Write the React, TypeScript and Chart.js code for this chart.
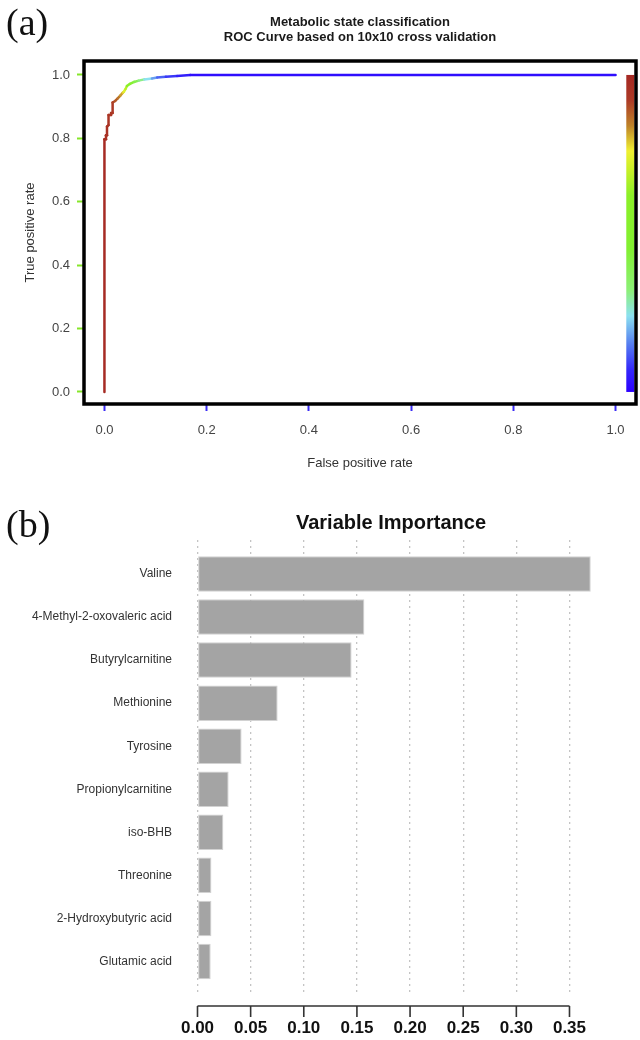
import React, { useEffect, useRef } from "react";
import { Chart, registerables } from "chart.js";

Chart.register(...registerables);
Chart.defaults.font.family = "'Liberation Sans', Arial, Helvetica, sans-serif";

// ---------- (a) ROC curve data ----------
const rocFpr = [0, 0, 0.003, 0.003, 0.005, 0.005, 0.008, 0.008, 0.013, 0.013, 0.016, 0.016, 0.021, 0.026, 0.031, 0.036, 0.038, 0.041, 0.044, 0.05, 0.058, 0.067, 0.078, 0.093, 0.103, 0.12, 0.142, 0.168, 1.0];
const rocTpr = [0, 0.797, 0.797, 0.81, 0.81, 0.837, 0.842, 0.874, 0.874, 0.88, 0.88, 0.913, 0.918, 0.926, 0.935, 0.944, 0.947, 0.955, 0.965, 0.972, 0.978, 0.982, 0.986, 0.989, 0.992, 0.994, 0.997, 1.0, 1.0];
const rocCutoff = [1.0, 0.97, 0.97, 0.96, 0.96, 0.95, 0.95, 0.94, 0.94, 0.93, 0.93, 0.92, 0.9, 0.87, 0.84, 0.8, 0.76, 0.71, 0.65, 0.55, 0.45, 0.35, 0.27, 0.21, 0.15, 0.1, 0.07, 0.04, 0.01];
const rocXTicks = [0, 0.2, 0.4, 0.6, 0.8, 1.0];
const rocYTicks = [0, 0.2, 0.4, 0.6, 0.8, 1.0];
const rocTitle = ["Metabolic state classification", "ROC Curve based on 10x10 cross validation"];

// ---------- (b) variable importance data ----------
const impLabels = [
  "Valine",
  "4-Methyl-2-oxovaleric acid",
  "Butyrylcarnitine",
  "Methionine",
  "Tyrosine",
  "Propionylcarnitine",
  "iso-BHB",
  "Threonine",
  "2-Hydroxybutyric acid",
  "Glutamic acid",
];
const impValues = [0.37, 0.157, 0.145, 0.0754, 0.0415, 0.0293, 0.0243, 0.0131, 0.0131, 0.0124];
const impTicks = [0, 0.05, 0.1, 0.15, 0.2, 0.25, 0.3, 0.35];

// colour map for cutoffs (0 = blue ... 1 = dark red)
const CMAP: [number, number[]][] = [
  [0.0, [44, 0, 255]],
  [0.07, [52, 40, 250]],
  [0.15, [85, 125, 240]],
  [0.24, [140, 225, 240]],
  [0.32, [140, 240, 120]],
  [0.45, [130, 240, 50]],
  [0.62, [140, 240, 40]],
  [0.7, [200, 240, 40]],
  [0.76, [240, 240, 50]],
  [0.84, [190, 130, 40]],
  [0.92, [172, 58, 38]],
  [1.0, [165, 40, 35]],
];

function cutoffColor(t: number): string {
  const v = Math.max(0, Math.min(1, t));
  for (let i = 1; i < CMAP.length; i++) {
    if (v <= CMAP[i][0]) {
      const [t0, c0] = CMAP[i - 1];
      const [t1, c1] = CMAP[i];
      const f = (v - t0) / (t1 - t0);
      const c = c0.map((a, k) => Math.round(a + (c1[k] - a) * f));
      return `rgb(${c.join(",")})`;
    }
  }
  const last = CMAP[CMAP.length - 1][1];
  return `rgb(${last.join(",")})`;
}

const SANS = "'Liberation Sans', Arial, Helvetica, sans-serif";
const SERIF = "'Liberation Serif', 'Times New Roman', serif";

const rocDecor = {
  id: "rocDecor",
  beforeDatasetsDraw(chart: any) {
    const { ctx, scales } = chart;
    const x = scales.x;
    const y = scales.y;
    const x0 = x.getPixelForValue(1.021);
    const x1 = x.getPixelForValue(1.037);
    const yTop = y.getPixelForValue(1);
    const yBot = y.getPixelForValue(0);
    const g = ctx.createLinearGradient(0, yBot, 0, yTop);
    CMAP.forEach(([t, c]) => g.addColorStop(t, `rgb(${c.join(",")})`));
    ctx.save();
    ctx.fillStyle = g;
    ctx.fillRect(x0, yTop, x1 - x0, yBot - yTop);
    ctx.restore();
  },
  afterDraw(chart: any) {
    const { ctx, chartArea } = chart;
    ctx.save();
    ctx.strokeStyle = "#000";
    ctx.lineWidth = 3.5;
    ctx.strokeRect(chartArea.left, chartArea.top, chartArea.right - chartArea.left, chartArea.bottom - chartArea.top);
    const cx = (chartArea.left + chartArea.right) / 2;
    ctx.fillStyle = "#1a1a1a";
    ctx.font = `bold 13px ${SANS}`;
    ctx.textAlign = "center";
    ctx.textBaseline = "middle";
    ctx.fillText(rocTitle[0], cx, 22);
    ctx.fillText(rocTitle[1], cx, 37.5);
    ctx.fillStyle = "#111";
    ctx.font = `38px ${SERIF}`;
    ctx.textAlign = "left";
    ctx.textBaseline = "alphabetic";
    ctx.fillText("(a)", 6, 35);
    ctx.restore();
  },
};

const impDecor = {
  id: "impDecor",
  afterDraw(chart: any) {
    const { ctx, chartArea, scales } = chart;
    const x = scales.x;
    const yAxis = chartArea.bottom + 14;
    ctx.save();
    ctx.strokeStyle = "#333";
    ctx.lineWidth = 1.6;
    ctx.beginPath();
    ctx.moveTo(x.getPixelForValue(impTicks[0]), yAxis);
    ctx.lineTo(x.getPixelForValue(impTicks[impTicks.length - 1]), yAxis);
    impTicks.forEach((v) => {
      const px = x.getPixelForValue(v);
      ctx.moveTo(px, yAxis);
      ctx.lineTo(px, yAxis + 11);
    });
    ctx.stroke();
    ctx.fillStyle = "#111";
    ctx.font = `bold 20px ${SANS}`;
    ctx.textAlign = "center";
    ctx.textBaseline = "middle";
    ctx.fillText("Variable Importance", 391, 43);
    ctx.font = `38px ${SERIF}`;
    ctx.textAlign = "left";
    ctx.textBaseline = "alphabetic";
    ctx.fillText("(b)", 6, 57);
    ctx.restore();
  },
};

function RocChart() {
  const ref = useRef<HTMLCanvasElement>(null);
  useEffect(() => {
    const chart = new Chart(ref.current as HTMLCanvasElement, {
      type: "line",
      data: {
        datasets: [
          {
            data: rocFpr.map((v, i) => ({ x: v, y: rocTpr[i] })),
            borderWidth: 2.5,
            pointRadius: 0,
            tension: 0,
            borderCapStyle: "round",
            borderJoinStyle: "round",
            borderColor: cutoffColor(0.5),
            segment: {
              borderColor: (c: any) => cutoffColor((rocCutoff[c.p0DataIndex] + rocCutoff[c.p1DataIndex]) / 2),
            },
          } as any,
        ],
      },
      options: {
        responsive: false,
        animation: false,
        layout: { padding: { top: 61, right: 4, bottom: 0, left: 0 } },
        plugins: { legend: { display: false }, tooltip: { enabled: false }, title: { display: false } },
        scales: {
          x: {
            type: "linear",
            min: -0.04,
            max: 1.04,
            afterBuildTicks: (s: any) => {
              s.ticks = rocXTicks.map((v) => ({ value: v }));
            },
            afterFit: (s: any) => {
              s.height = 76;
            },
            grid: { drawOnChartArea: false, drawTicks: true, tickLength: 7, tickColor: "#3a2cf5", tickWidth: 2 },
            border: { display: false },
            ticks: { padding: 12, color: "#444", font: { size: 13 }, callback: (v: any) => Number(v).toFixed(1), maxRotation: 0 },
            title: { display: true, text: "False positive rate", color: "#333", font: { size: 13 }, padding: { top: 0, bottom: 9 } },
          },
          y: {
            type: "linear",
            min: -0.038,
            max: 1.044,
            afterBuildTicks: (s: any) => {
              s.ticks = rocYTicks.map((v) => ({ value: v }));
            },
            afterFit: (s: any) => {
              s.width = 84;
            },
            grid: { drawOnChartArea: false, drawTicks: true, tickLength: 7, tickColor: "#86e62a", tickWidth: 2 },
            border: { display: false },
            ticks: { padding: 7, color: "#444", font: { size: 13 }, callback: (v: any) => Number(v).toFixed(1) },
            title: { display: true, text: "True positive rate", color: "#333", font: { size: 13 }, padding: { top: 23, bottom: 0 } },
          },
        },
      } as any,
      plugins: [rocDecor],
    });
    return () => chart.destroy();
  }, []);
  return <canvas ref={ref} width={640} height={480} style={{ position: "absolute", left: 0, top: 0 }} />;
}

function ImportanceChart() {
  const ref = useRef<HTMLCanvasElement>(null);
  useEffect(() => {
    const chart = new Chart(ref.current as HTMLCanvasElement, {
      type: "bar",
      data: {
        datasets: [
          {
            data: impValues.map((v, i) => ({ x: v, y: i })),
            backgroundColor: "#a4a4a4",
            borderColor: "#d2d2d2",
            borderWidth: 1,
            borderSkipped: false,
            categoryPercentage: 1,
            barPercentage: 0.825,
          } as any,
        ],
      },
      options: {
        indexAxis: "y",
        responsive: false,
        animation: false,
        layout: { padding: { top: 60, right: 28, bottom: 0, left: 0 } },
        plugins: { legend: { display: false }, tooltip: { enabled: false }, title: { display: false } },
        scales: {
          x: {
            type: "linear",
            min: 0,
            max: 0.39,
            afterBuildTicks: (s: any) => {
              s.ticks = impTicks.map((v) => ({ value: v }));
            },
            afterFit: (s: any) => {
              s.height = 48;
            },
            grid: { drawOnChartArea: true, drawTicks: false, color: "#c4c4c4", lineWidth: 1.3 },
            border: { display: false, dash: [2, 4] },
            ticks: { padding: 26, color: "#111", font: { size: 17, weight: "bold" }, callback: (v: any) => Number(v).toFixed(2), maxRotation: 0, autoSkip: false },
          },
          y: {
            type: "linear",
            reverse: true,
            offset: false,
            min: -0.79,
            max: 9.71,
            afterBuildTicks: (s: any) => {
              s.ticks = impLabels.map((_, i) => ({ value: i }));
            },
            afterFit: (s: any) => {
              s.width = 197.5;
            },
            grid: { display: false, drawTicks: false, offset: false },
            border: { display: false },
            ticks: { padding: 25.5, color: "#333", font: { size: 12 }, autoSkip: false, callback: (v: any) => impLabels[Math.round(Number(v))] ?? "" },
          },
        },
      } as any,
      plugins: [impDecor],
    });
    return () => chart.destroy();
  }, []);
  return <canvas ref={ref} width={640} height={560} style={{ position: "absolute", left: 0, top: 480 }} />;
}

export default function App() {
  return (
    <div style={{ position: "absolute", left: 0, top: 0, width: 640, height: 1040, background: "#fff", overflow: "hidden" }}>
      <RocChart />
      <ImportanceChart />
    </div>
  );
}
